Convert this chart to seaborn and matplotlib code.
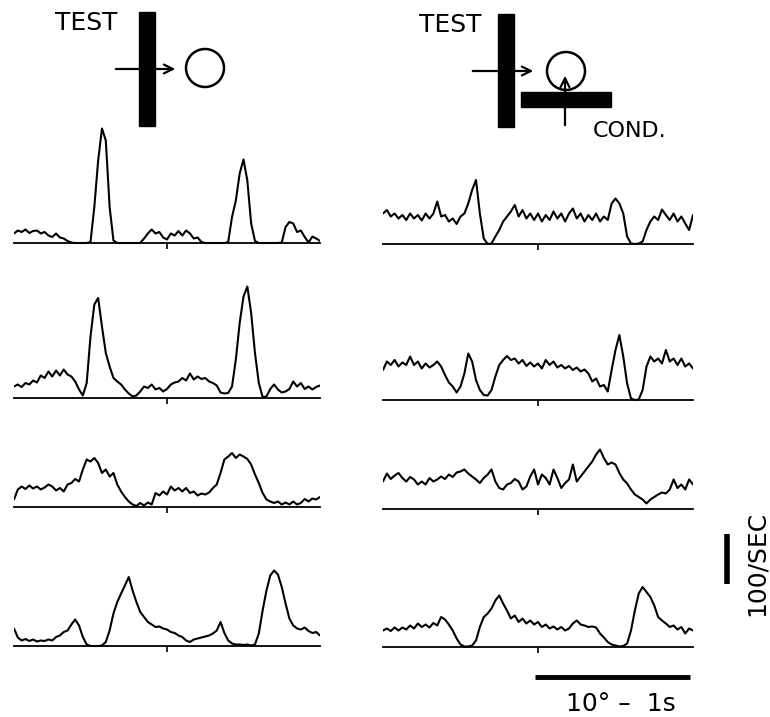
import matplotlib
matplotlib.use("Agg")
import matplotlib.pyplot as plt
from matplotlib.patches import Rectangle, Circle
import numpy as np
import pandas as pd
import seaborn as sns

STEP = 0.025

# left column: test bar alone
left_1 = [19, 25, 22, 27, 20, 24, 25, 19, 22, 15, 12, 19, 11, 9, 4, 1, 0, 0, 0, 0,
          2, 72, 165, 229, 205, 72, 5, 0, 0, 0, 0, 0, 0, 0, 9, 19, 27, 19, 22, 11,
          7, 19, 15, 24, 15, 25, 19, 9, 11, 2, 0, 0, 0, 0, 0, 0, 2, 52, 85, 139,
          167, 125, 39, 4, 0, 0, 0, 0, 0, 0, 1, 32, 42, 39, 22, 25, 12, 1, 13, 9, 4]
left_2 = [23, 27, 22, 30, 27, 35, 31, 45, 40, 53, 43, 55, 45, 57, 47, 43, 33, 17, 5, 30,
          123, 187, 200, 143, 90, 63, 40, 33, 27, 17, 9, 3, 5, 13, 23, 20, 27, 17, 20, 13,
          18, 27, 31, 33, 40, 35, 49, 37, 43, 38, 40, 33, 30, 25, 11, 9, 10, 23, 77, 150,
          203, 223, 170, 90, 30, 2, 3, 18, 27, 17, 11, 13, 18, 33, 23, 30, 18, 23, 17, 22, 25]
left_3 = [15, 35, 41, 36, 43, 37, 41, 35, 39, 45, 41, 33, 38, 31, 45, 48, 56, 51, 75, 95,
          91, 98, 88, 68, 75, 61, 68, 45, 31, 20, 11, 5, 2, 8, 3, 9, 5, 28, 23, 31,
          25, 41, 33, 38, 31, 38, 28, 31, 23, 27, 25, 29, 38, 45, 68, 95, 101, 108, 98, 105,
          101, 96, 85, 65, 48, 28, 15, 11, 8, 11, 5, 9, 5, 11, 5, 8, 16, 11, 17, 15, 20]
left_4 = [35, 17, 11, 14, 10, 13, 9, 11, 10, 13, 11, 18, 21, 28, 31, 43, 53, 41, 18, 3,
          0, 0, 0, 1, 8, 31, 65, 88, 105, 121, 138, 111, 88, 68, 58, 48, 43, 38, 39, 35,
          33, 28, 26, 21, 18, 11, 8, 13, 15, 17, 19, 21, 25, 31, 48, 26, 11, 5, 3, 3,
          2, 3, 1, 3, 25, 71, 111, 141, 151, 143, 118, 85, 55, 41, 35, 33, 37, 30, 26, 28, 21]

# right column: test bar with conditioning bar
right_1 = [61, 68, 55, 61, 51, 58, 48, 61, 51, 58, 47, 61, 51, 61, 85, 55, 58, 45, 51, 40,
           55, 61, 81, 108, 128, 61, 11, 0, 1, 15, 28, 45, 55, 65, 78, 55, 68, 51, 61, 48,
           61, 45, 58, 48, 65, 51, 61, 45, 61, 71, 51, 61, 45, 58, 48, 61, 45, 55, 48, 81,
           91, 81, 61, 15, 1, 0, 1, 5, 28, 45, 55, 48, 69, 58, 48, 61, 45, 55, 41, 28, 58]
right_2 = [60, 77, 70, 80, 67, 75, 70, 87, 70, 77, 63, 73, 65, 70, 77, 67, 50, 35, 27, 15,
           27, 53, 93, 77, 40, 20, 10, 9, 20, 47, 70, 80, 88, 80, 83, 73, 80, 68, 75, 67,
           73, 63, 80, 70, 77, 65, 70, 63, 68, 60, 65, 57, 61, 53, 37, 43, 27, 30, 17, 60,
           100, 130, 87, 33, 3, 0, 1, 20, 67, 87, 77, 83, 73, 100, 77, 83, 70, 83, 67, 73, 63]
right_3 = [55, 71, 60, 67, 72, 62, 55, 64, 59, 49, 55, 49, 62, 55, 59, 65, 60, 69, 64, 73,
           75, 79, 71, 65, 59, 52, 62, 69, 79, 55, 42, 39, 49, 52, 60, 55, 39, 45, 65, 79,
           49, 69, 62, 49, 79, 62, 42, 52, 59, 89, 55, 65, 75, 85, 95, 109, 119, 102, 89, 93,
           89, 72, 59, 51, 39, 29, 24, 19, 11, 19, 24, 29, 33, 31, 39, 59, 42, 49, 39, 59, 49]
right_4 = [33, 37, 32, 39, 33, 39, 35, 43, 37, 47, 40, 45, 39, 48, 43, 60, 55, 45, 33, 17,
           5, 1, 1, 3, 13, 40, 60, 67, 77, 93, 103, 87, 73, 57, 63, 50, 57, 47, 53, 45,
           50, 40, 45, 37, 41, 35, 40, 33, 37, 47, 53, 45, 43, 40, 41, 39, 27, 19, 10, 5,
           3, 1, 2, 7, 33, 73, 107, 120, 110, 100, 83, 60, 53, 47, 40, 43, 35, 40, 27, 37, 33]

panels = ["L1", "L2", "L3", "L4", "R1", "R2", "R3", "R4"]
series = [left_1, left_2, left_3, left_4, right_1, right_2, right_3, right_4]

rows = []
for name, vals in zip(panels, series):
    t = np.round(np.arange(len(vals)) * STEP, 3)
    rows.append(pd.DataFrame({"panel": name, "t": t, "rate": vals}))
df = pd.concat(rows, ignore_index=True)

SCALE_RATE = 100   # impulses/sec
SCALE_T = 1.0      # s  (= 10 deg)

sns.set_theme(style="white")
plt.rcParams["font.family"] = ["DejaVu Sans"]
plt.rcParams["text.color"] = "black"

W, H = 770, 717
fig = plt.figure(figsize=(W / 100, H / 100), dpi=100)


def px_axes(x0, x1, y_top, y_bot):
    ax = fig.add_axes([x0 / W, 1 - y_bot / H, (x1 - x0) / W, (y_bot - y_top) / H])
    ax.patch.set_alpha(0)
    return ax


# overlay in pixel units for the stimulus sketches and labels
ov = px_axes(0, W, 0, H)
ov.set_xlim(0, W)
ov.set_ylim(H, 0)
ov.axis("off")

# left sketch: test bar moving over the receptive field
ov.annotate("", xy=(178, 69), xytext=(113, 69),
            arrowprops=dict(arrowstyle="->", lw=1.6, color="black", mutation_scale=16))
ov.add_patch(Rectangle((139, 12), 16, 114, color="black"))
ov.add_patch(Circle((205, 68), 19, fill=False, lw=1.8, color="black"))
ov.text(86, 23, "TEST", ha="center", va="center", fontsize=18)

# right sketch: test bar plus conditioning bar
ov.annotate("", xy=(536, 71), xytext=(470, 71),
            arrowprops=dict(arrowstyle="->", lw=1.6, color="black", mutation_scale=16))
ov.add_patch(Rectangle((498, 14), 16, 113, color="black"))
ov.add_patch(Circle((566, 71), 19, fill=False, lw=1.8, color="black"))
ov.add_patch(Rectangle((521, 92), 90, 15, color="black"))
ov.annotate("", xy=(565, 73), xytext=(565, 128),
            arrowprops=dict(arrowstyle="->", lw=1.6, color="black", mutation_scale=16))
ov.text(450, 25, "TEST", ha="center", va="center", fontsize=18)
ov.text(630, 131, "COND.", ha="center", va="center", fontsize=16)

# trace axes: 2 impulses/sec per pixel, baseline 5 px above the axes bottom
left_base = [243, 398, 507, 646]
right_base = [244, 400, 509, 647]
slots = [(14, 320, b) for b in left_base] + [(383, 693, b) for b in right_base]

axes = {}
for name, (x0, x1, base) in zip(panels, slots):
    ax = px_axes(x0, x1, base + 5 - 130, base + 5)
    sub = df[df["panel"] == name]
    sns.lineplot(data=sub, x="t", y="rate", ax=ax, color="black", lw=1.5, estimator=None)
    ax.set_xlim(0, 2)
    ax.set_ylim(-10, 250)
    for s in ["top", "left", "right"]:
        ax.spines[s].set_visible(False)
    ax.spines["bottom"].set_position(("data", 0))
    ax.spines["bottom"].set_color("black")
    ax.spines["bottom"].set_linewidth(1.3)
    ax.set_xticks([1.0])
    ax.set_xticklabels([])
    ax.set_yticks([])
    ax.tick_params(axis="x", bottom=True, direction="out", length=4, width=1.2, color="black")
    ax.set_xlabel("")
    ax.set_ylabel("")
    axes[name] = ax

# calibration bars, drawn in the data units of the last right-hand trace
ax = axes["R4"]
ax.plot([2.22, 2.22], [126, 126 + SCALE_RATE], color="black", lw=4, clip_on=False,
        solid_capstyle="butt")
ax.plot([0.98, 0.98 + SCALE_T], [-60, -60], color="black", lw=3.5, clip_on=False,
        solid_capstyle="butt")
ov.text(757, 563, "100/SEC", ha="center", va="center", rotation=90, fontsize=18)
ov.text(621, 704, "10\u00b0 \u2013  1s", ha="center", va="center", fontsize=18)

fig.savefig("out.png", dpi=100)
